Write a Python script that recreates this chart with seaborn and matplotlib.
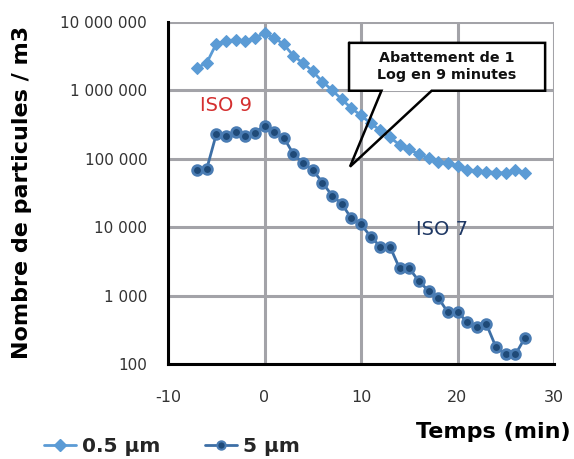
import matplotlib
matplotlib.use("Agg")
import matplotlib.pyplot as plt
import seaborn as sns
import pandas as pd
from matplotlib.ticker import FixedLocator, FuncFormatter, NullLocator
from matplotlib.patches import Rectangle
from matplotlib.lines import Line2D

# ---------------- data ----------------
temps = [-7, -6, -5, -4, -3, -2, -1, 0, 1, 2, 3, 4, 5, 6, 7, 8, 9, 10, 11, 12,
         13, 14, 15, 16, 17, 18, 19, 20, 21, 22, 23, 24, 25, 26, 27]
p05 = [2.15e6, 2.5e6, 4.8e6, 5.3e6, 5.5e6, 5.3e6, 5.9e6, 6.8e6, 5.9e6, 4.7e6,
       3.2e6, 2.5e6, 1.9e6, 1.34e6, 1.01e6, 7.4e5, 5.5e5, 4.3e5, 3.3e5, 2.6e5,
       2.06e5, 1.6e5, 1.37e5, 1.17e5, 1.02e5, 9.1e4, 8.6e4, 7.8e4, 6.9e4, 6.7e4,
       6.5e4, 6.3e4, 6.2e4, 6.9e4, 6.3e4]
p5 = [6.9e4, 7.0e4, 2.28e5, 2.18e5, 2.44e5, 2.15e5, 2.41e5, 3.05e5, 2.44e5, 2.04e5,
      1.17e5, 8.6e4, 6.9e4, 4.5e4, 2.9e4, 2.2e4, 1.35e4, 1.1e4, 7.3e3, 5.2e3,
      5.2e3, 2.5e3, 2.5e3, 1.63e3, 1.17e3, 930, 570, 570, 415, 345,
      380, 175, 138, 138, 243]
series_labels = ["0.5 µm", "5 µm"]
y_ticks = [100, 1000, 10000, 100000, 1000000, 10000000]
x_ticks = [-10, 0, 10, 20, 30]
xlabel = "Temps (min)"
ylabel = "Nombre de particules / m3"
callout_text = "Abattement de 1\nLog en 9 minutes"

df = pd.DataFrame({"t": temps * 2, "n": p05 + p5,
                   "taille": [series_labels[0]] * len(temps) + [series_labels[1]] * len(temps)})

# ---------------- style ----------------
sns.set_style("white")
plt.rcParams["font.family"] = ["DejaVu Sans"]
plt.rcParams["axes.unicode_minus"] = False

light = "#5b9bd5"
dark_line = "#3d6fa6"
dark_face = "#1f4a78"
dark_edge = "#4a7cb3"
grid_c = "#a3a3a8"

fig = plt.figure(figsize=(5.74, 4.59), dpi=100)
ax = fig.add_axes([168 / 574, 1 - 364 / 459, 386 / 574, 342 / 459])

d1 = df[df.taille == series_labels[0]]
d2 = df[df.taille == series_labels[1]]
sns.lineplot(data=d1, x="t", y="n", ax=ax, color=light, linewidth=2,
             marker="D", markersize=6, markerfacecolor=light, markeredgecolor=light,
             zorder=3, legend=False)
sns.lineplot(data=d2, x="t", y="n", ax=ax, color=dark_line, linewidth=2,
             marker="o", markersize=7, markerfacecolor=dark_face, markeredgecolor=dark_edge,
             markeredgewidth=2, zorder=4, legend=False)

ax.set_yscale("log")
ax.set_ylim(100, 1e7)
ax.set_xlim(-10, 30)
ax.yaxis.set_major_locator(FixedLocator(y_ticks))
ax.yaxis.set_minor_locator(NullLocator())
ax.yaxis.set_major_formatter(FuncFormatter(lambda v, p: f"{int(round(v)):,}".replace(",", " ")))
ax.xaxis.set_major_locator(FixedLocator(x_ticks))

ax.grid(True, which="major", color=grid_c, linewidth=2.2, zorder=0)
ax.set_axisbelow(True)
for s in ["top", "right"]:
    ax.spines[s].set_visible(False)
for s in ["left", "bottom"]:
    ax.spines[s].set_color("black")
    ax.spines[s].set_linewidth(2.2)
    ax.spines[s].set_zorder(5)

ax.tick_params(axis="y", length=0, pad=15, labelsize=11, labelcolor="#333333")
ax.tick_params(axis="x", length=0, pad=19, labelsize=11.5, labelcolor="#333333")
ax.set_xlabel("")
ax.set_ylabel("")

fig.text(571 / 574, 1 - 432 / 459, xlabel, ha="right", va="center",
         fontsize=16, fontweight="bold", color="black")
fig.text(22 / 574, 1 - 192 / 459, ylabel, ha="center", va="center", rotation=90,
         fontsize=16, fontweight="bold", color="black")

# ISO labels
ax.text(-4.0, 6.0e5, "ISO 9", color="#d42f2f", fontsize=14, ha="center", va="center")
ax.text(18.4, 9.25e3, "ISO 7", color="#1f3864", fontsize=14, ha="center", va="center")

# callout (axes fraction coordinates)
bl, br, bt, bb = 0.469, 0.977, 0.939, 0.799
b1, b2 = 0.553, 0.683
tip = (0.4715, 0.577)
ax.add_patch(Rectangle((bl, bb), br - bl, bt - bb, transform=ax.transAxes,
                       facecolor="white", edgecolor="none", zorder=6, clip_on=False))
px = [bl, br, br, b2, tip[0], b1, bl, bl]
py = [bt, bt, bb, bb, tip[1], bb, bb, bt]
ax.add_line(Line2D(px, py, transform=ax.transAxes, color="black", linewidth=1.8,
                   zorder=7, clip_on=False, solid_joinstyle="miter"))
ax.text((bl + br) / 2, (bt + bb) / 2, callout_text, transform=ax.transAxes,
        ha="center", va="center", fontsize=10.3, fontweight="bold", color="#111111",
        zorder=8, linespacing=1.25)

# legend
h1 = Line2D([], [], color=light, linewidth=2, marker="D", markersize=6,
            markerfacecolor=light, markeredgecolor=light)
h2 = Line2D([], [], color=dark_line, linewidth=2, marker="o", markersize=6,
            markerfacecolor=dark_face, markeredgecolor=dark_edge, markeredgewidth=1.5)
fig.legend([h1, h2], series_labels, loc="center left", bbox_to_anchor=(44 / 574, 1 - 447 / 459),
           ncol=2, frameon=False, handlelength=1.6, handletextpad=0.3, columnspacing=2.2,
           prop={"weight": "bold", "size": 14.5}, borderaxespad=0, borderpad=0)

fig.savefig("out.png", dpi=100)
